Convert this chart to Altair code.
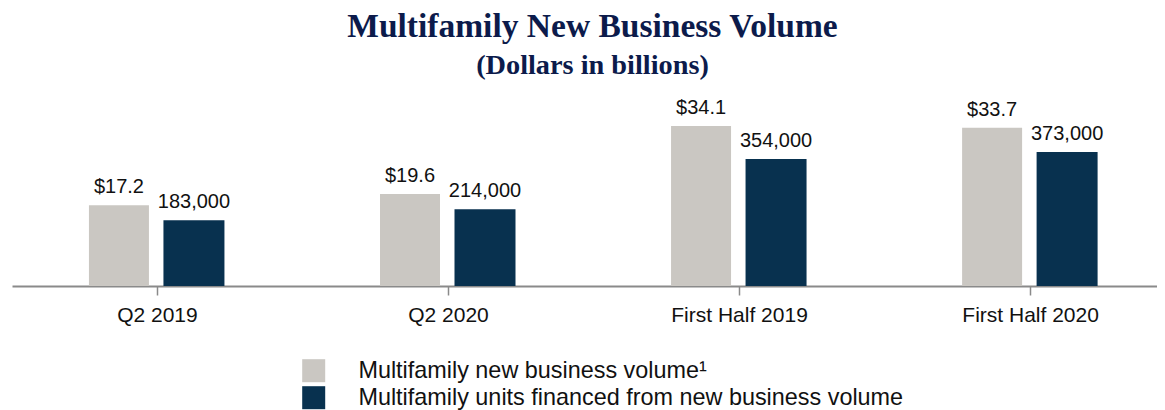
import json
import altair as alt
import pandas as pd

categories = ["Q2 2019", "Q2 2020", "First Half 2019", "First Half 2020"]
volume = [17.2, 19.6, 34.1, 33.7]          # dollars in billions
units = [183000, 214000, 354000, 373000]   # units financed
series_names = ["Multifamily new business volume\u00b9",
                "Multifamily units financed from new business volume"]
series_colors = ["#CAC7C2", "#08314F"]

df_vol = pd.DataFrame({"idx": list(range(len(categories))), "cat": categories,
                       "value": volume, "series": series_names[0]})
df_units = pd.DataFrame({"idx": list(range(len(categories))), "cat": categories,
                         "value": units, "series": series_names[1]})

label_expr = "[" + ",".join(json.dumps(c) for c in categories) + "][datum.value]"

x_enc = alt.X("idx:Q",
              scale=alt.Scale(domain=[-0.498, 3.436], nice=False, zero=False, padding=0),
              axis=alt.Axis(values=list(range(len(categories))), labelExpr=label_expr,
                            title=None, grid=False, domainColor="#8A8A8A", domainWidth=2,
                            tickColor="#8A8A8A", tickWidth=1.5, tickSize=9,
                            labelFontSize=21, labelFont="Liberation Sans",
                            labelColor="#111111", labelPadding=9))

color_enc = alt.Color("series:N",
                      scale=alt.Scale(domain=series_names, range=series_colors),
                      legend=alt.Legend(orient="none", legendX=290, legendY=257,
                                        title=None, direction="vertical",
                                        symbolType="square", symbolSize=529,
                                        symbolStrokeWidth=0, labelFontSize=23.4,
                                        labelFont="Liberation Sans", labelColor="#111111",
                                        labelOffset=33, rowPadding=2, padding=0,
                                        labelLimit=1000))

vol_scale = alt.Scale(domain=[0, 39.2], nice=False)
unit_scale = alt.Scale(domain=[0, 512500], nice=False)

vol_bars = alt.Chart(df_vol).mark_bar(width=60, xOffset=-38).encode(
    x=x_enc, y=alt.Y("value:Q", scale=vol_scale, axis=None), color=color_enc)
vol_text = alt.Chart(df_vol).mark_text(dx=-38, dy=-12, baseline="alphabetic",
                                       fontSize=20, font="Liberation Sans",
                                       color="#111111").encode(
    x=x_enc, y=alt.Y("value:Q", scale=vol_scale, axis=None),
    text=alt.Text("value:Q", format="$.1f"))

unit_bars = alt.Chart(df_units).mark_bar(width=61, xOffset=37).encode(
    x=x_enc, y=alt.Y("value:Q", scale=unit_scale, axis=None), color=color_enc)
unit_text = alt.Chart(df_units).mark_text(dx=37, dy=-12, baseline="alphabetic",
                                          fontSize=20, font="Liberation Sans",
                                          color="#111111").encode(
    x=x_enc, y=alt.Y("value:Q", scale=unit_scale, axis=None),
    text=alt.Text("value:Q", format=",d"))

vol_layer = alt.layer(vol_bars, vol_text)
unit_layer = alt.layer(unit_bars, unit_text)

chart = alt.layer(vol_layer, unit_layer).resolve_scale(y="independent").properties(
    width=1145, height=184,
    padding={"left": 4, "top": 2, "right": 0, "bottom": 0},
    title=alt.TitleParams(text="Multifamily New Business Volume",
                          subtitle="(Dollars in billions)",
                          font="Liberation Serif", fontSize=33.5, fontWeight="bold",
                          color="#0C1B4B", subtitleFont="Liberation Serif",
                          subtitleFontSize=28.3, subtitleFontWeight="bold",
                          subtitleColor="#0C1B4B", subtitlePadding=7,
                          anchor="middle", dx=8, offset=18)
).configure_view(stroke=None)

chart.save("out.html", embed_options={"renderer": "svg", "actions": False})
